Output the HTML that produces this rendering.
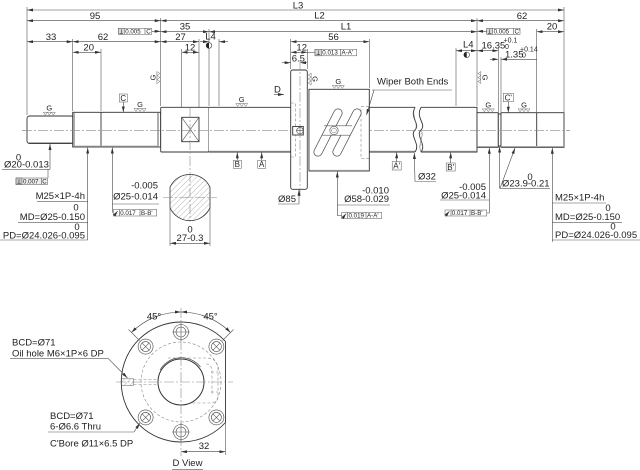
<!DOCTYPE html>
<html><head><meta charset="utf-8"><style>
html,body{margin:0;padding:0;background:#fff;}
svg{display:block;}
text{font-family:"Liberation Sans",Arial,sans-serif;font-size:9.5px;fill:#222;}
.s{font-size:7px;}
.t{font-size:6.2px;}
.g{font-size:7.5px;}
.l{stroke:#555;stroke-width:0.6;fill:none;}
.dm{stroke:#444;stroke-width:0.6;fill:none;marker-start:url(#a);marker-end:url(#a);}
.le{stroke:#444;stroke-width:0.6;fill:none;marker-end:url(#a);}
.o{stroke:#333;stroke-width:0.9;fill:#fff;}
.ln{stroke:#333;stroke-width:0.9;fill:none;}
.c{stroke:#888;stroke-width:0.6;stroke-dasharray:10 2 2 2;fill:none;}
.d{stroke:#888;stroke-width:0.6;stroke-dasharray:3 2;fill:none;}
.bx{stroke:#555;stroke-width:0.5;fill:#fff;}
.pp{stroke:#333;stroke-width:0.6;fill:none;}
</style></head><body>
<svg width="640" height="470" viewBox="0 0 640 470" xmlns="http://www.w3.org/2000/svg">
<defs>
<marker id="a" viewBox="0 0 6 3" refX="6" refY="1.5" markerWidth="6" markerHeight="3" markerUnits="userSpaceOnUse" orient="auto-start-reverse"><path d="M0,0 L6,1.5 L0,3z" fill="#333"/></marker>
<pattern id="h" width="4" height="4" patternUnits="userSpaceOnUse" patternTransform="rotate(45)"><line x1="0" y1="0" x2="0" y2="4" stroke="#888" stroke-width="0.6"/></pattern>
<g id="gs"><path d="M-6,-3.8 L6,-3.8 M-6,-3.8 L-4,-0.9 L-2,-3.8 L0,-0.9 L2,-3.8 L4,-0.9 L6,-3.8" stroke="#666" stroke-width="0.5" fill="none"/><text class="g" x="0" y="-5.3" text-anchor="middle">G</text></g>
</defs>

<!-- ===== Extension lines ===== -->
<path class="l" d="M27,7 V115 M72.7,39 V111 M101,49 V111 M160.7,18 V106 M181.7,49 V116 M199,39 V116 M209,29 V106 M219,39 V106 M290.7,39 V69 M307.3,49 V69 M369.3,39 V88 M456,48 V106 M477,18 V106 M498.3,48 V112 M501,57 V112 M536.7,29 V112 M564,7 V112"/>

<!-- ===== Top dimensions ===== -->
<line class="dm" x1="27" y1="10" x2="564" y2="10"/>
<text x="298" y="8.7" text-anchor="middle">L3</text>
<line class="dm" x1="27" y1="20.7" x2="160.7" y2="20.7"/>
<text x="95" y="19" text-anchor="middle">95</text>
<line class="dm" x1="160.7" y1="20.7" x2="477" y2="20.7"/>
<text x="319.5" y="18.5" text-anchor="middle">L2</text>
<line class="dm" x1="477" y1="20.7" x2="564" y2="20.7"/>
<text x="522" y="19" text-anchor="middle">62</text>

<line class="dm" x1="160.7" y1="31.7" x2="209" y2="31.7"/>
<text x="185" y="29.5" text-anchor="middle">35</text>
<line class="dm" x1="209" y1="31.7" x2="477" y2="31.7"/>
<text x="346" y="29.5" text-anchor="middle">L1</text>
<line class="dm" x1="536.7" y1="31.7" x2="564" y2="31.7"/>
<text x="552" y="29.5" text-anchor="middle">20</text>
<line class="le" x1="151.7" y1="31.3" x2="160.7" y2="31.3"/>
<line class="le" x1="486.7" y1="31.3" x2="477" y2="31.3"/>

<line class="dm" x1="27" y1="41.7" x2="72.7" y2="41.7"/>
<text x="51" y="40" text-anchor="middle">33</text>
<line class="dm" x1="72.7" y1="41.7" x2="160.7" y2="41.7"/>
<text x="103" y="40" text-anchor="middle">62</text>
<line class="dm" x1="160.7" y1="41.7" x2="199" y2="41.7"/>
<text x="180.5" y="40" text-anchor="middle">27</text>
<line class="le" x1="200" y1="41.7" x2="209" y2="41.7"/>
<line class="le" x1="228" y1="41.7" x2="219" y2="41.7"/>
<text x="210.5" y="39.5" text-anchor="middle">L4</text>
<circle cx="209" cy="45.5" r="2.8" fill="#fff" stroke="#333" stroke-width="0.6"/>
<path d="M209,42.7 A2.8,2.8 0 0,0 209,48.3 Z" fill="#222"/>
<line class="dm" x1="290.7" y1="41.7" x2="369.3" y2="41.7"/>
<text x="333.5" y="40" text-anchor="middle">56</text>

<line class="dm" x1="72.7" y1="52.3" x2="101" y2="52.3"/>
<text x="88.7" y="50.3" text-anchor="middle">20</text>
<line class="dm" x1="181.7" y1="52.3" x2="199" y2="52.3"/>
<text x="190" y="50.5" text-anchor="middle">12</text>
<line class="dm" x1="290.7" y1="52.3" x2="307.3" y2="52.3"/>
<line class="l" x1="307.3" y1="52.3" x2="315" y2="52.3"/>
<text x="301.7" y="50.5" text-anchor="middle">12</text>
<line class="le" x1="282" y1="62.7" x2="290.7" y2="62.7"/>
<line class="le" x1="307.3" y1="62.7" x2="300" y2="62.7"/>
<text x="298.3" y="61.3" text-anchor="middle">6.5</text>

<!-- right side small dims -->
<line class="dm" x1="456" y1="50.7" x2="477" y2="50.7"/>
<text x="468.3" y="47.7" text-anchor="middle">L4</text>
<circle cx="466.7" cy="54.8" r="2.8" fill="#fff" stroke="#333" stroke-width="0.6"/>
<path d="M466.7,52 A2.8,2.8 0 0,0 466.7,57.6 Z" fill="#222"/>
<line class="dm" x1="477" y1="50.7" x2="498.3" y2="50.7"/>
<text x="481.5" y="48.5">16.35</text>
<text class="s" x="503.5" y="42.5">+0.1</text>
<text class="s" x="505" y="48.8">0</text>
<line class="le" x1="490" y1="59.3" x2="498.3" y2="59.3"/>
<line class="le" x1="537" y1="59.3" x2="501" y2="59.3"/>
<text x="505" y="57.7">1.35</text>
<text class="s" x="520" y="51.7">+0.14</text>
<text class="s" x="522" y="57.7">0</text>

<!-- tolerance boxes top -->
<rect class="bx" x="118.3" y="28.3" width="33.4" height="6"/>
<rect x="118.3" y="28.3" width="6" height="6" fill="#d8d8d8" stroke="#555" stroke-width="0.5"/>
<line class="l" x1="145" y1="28.3" x2="145" y2="34.3"/>
<path class="pp" d="M119.6,33.3 H123 M121.3,33.3 V29.4"/>
<text class="t" x="125.2" y="33.3">0.005</text>
<text class="t" x="146.3" y="33.3">C</text>

<rect class="bx" x="315" y="49.3" width="41.7" height="6.5"/>
<rect x="315" y="49.3" width="6.5" height="6.5" fill="#d8d8d8" stroke="#555" stroke-width="0.5"/>
<line class="l" x1="340.5" y1="49.3" x2="340.5" y2="55.8"/>
<path class="pp" d="M316.5,54.7 H320 M318.25,54.7 V50.4"/>
<text class="t" x="322.3" y="54.6">0.013</text>
<text class="t" x="341.5" y="54.6">A-A'</text>

<rect class="bx" x="486.7" y="28.3" width="33.3" height="6"/>
<rect x="486.7" y="28.3" width="6" height="6" fill="#d8d8d8" stroke="#555" stroke-width="0.5"/>
<line class="l" x1="513.5" y1="28.3" x2="513.5" y2="34.3"/>
<path class="pp" d="M488,33.3 H491.4 M489.7,33.3 V29.4"/>
<text class="t" x="493.6" y="33.3">0.005</text>
<text class="t" x="514.5" y="33.3">C'</text>

<!-- ===== Shaft ===== -->
<line class="c" x1="22" y1="130.3" x2="570" y2="130.3"/>
<rect class="o" x="27" y="116" width="46.5" height="27.5" rx="2.5"/>
<rect class="o" x="72.7" y="112.3" width="88" height="34.7"/>
<line x1="74" y1="113" x2="74" y2="146.4" stroke="#999" stroke-width="1.6"/>
<line x1="158" y1="113" x2="158" y2="146.4" stroke="#999" stroke-width="1.6"/>
<line class="ln" x1="101" y1="112.3" x2="101" y2="147"/>
<line x1="28" y1="142.6" x2="72" y2="142.6" stroke="#aaa" stroke-width="1"/>
<line x1="74" y1="146.1" x2="157" y2="146.1" stroke="#aaa" stroke-width="1"/>

<rect class="o" x="160.7" y="107.3" width="48.3" height="44.7" rx="1"/>
<rect class="ln" x="181.7" y="117.3" width="17.3" height="24.4"/>
<path class="l" d="M181.7,117.3 L199,141.7 M199,117.3 L181.7,141.7"/>
<line class="c" x1="190" y1="108" x2="190" y2="222"/>

<!-- main shaft -->
<rect x="209" y="107.3" width="206" height="44.7" fill="#fff"/>
<path class="ln" d="M209,107.3 H415 M209,152 H415"/>
<line x1="209" y1="151.2" x2="415" y2="151.2" stroke="#aaa" stroke-width="0.9"/>
<path class="ln" d="M415,107.3 C409,118 421,124 415,130 C409,136 421,144 415,152"/>
<rect x="421" y="107.3" width="56" height="44.7" fill="#fff"/>
<path class="ln" d="M421,107.3 H477 V152 H421"/>
<line x1="422" y1="151.2" x2="476" y2="151.2" stroke="#aaa" stroke-width="0.9"/>
<path class="ln" d="M421,107.3 C415,118 427,124 421,130 C415,136 427,144 421,152"/>
<path d="M421,130 C415,136 427,144 421,152 C417,144 425,136 421,130Z" fill="url(#h)" stroke="#555" stroke-width="0.5"/>
<path d="M415,107.3 C409,118 421,124 415,130 C419,124 411,116 415,107.3Z" fill="url(#h)" stroke="#555" stroke-width="0.5"/>

<!-- right end -->
<rect class="o" x="477" y="112.7" width="21.3" height="34.6"/>
<rect class="o" x="498.3" y="114" width="2.7" height="32"/>
<rect class="o" x="501" y="112.7" width="63" height="34.6"/>
<line class="ln" x1="536.7" y1="112.7" x2="536.7" y2="147.3"/>
<line x1="478" y1="146.5" x2="497.5" y2="146.5" stroke="#aaa" stroke-width="0.9"/>
<line x1="502" y1="146.5" x2="563" y2="146.5" stroke="#aaa" stroke-width="0.9"/>
<line class="c" x1="22" y1="130.3" x2="570" y2="130.3"/>

<!-- flange -->
<rect class="o" x="290.7" y="70" width="16.6" height="119.3" rx="2"/>
<path class="d" d="M291,103 H295.5 V157 H291"/>
<line class="c" x1="300" y1="60" x2="300" y2="196"/>
<rect class="o" x="292.7" y="126.5" width="10.6" height="8.5"/>
<circle cx="300" cy="130.7" r="3.3" fill="none" stroke="#444" stroke-width="0.6"/>
<path class="l" d="M296,130.7 H304 M300,126.8 V134.6"/>

<!-- nut -->
<rect class="o" x="309" y="89.3" width="60.3" height="81.7"/>
<rect x="307.3" y="89.3" width="1.8" height="81.7" fill="#999"/>
<line x1="309.5" y1="170.3" x2="369" y2="170.3" stroke="#aaa" stroke-width="0.9"/>
<path class="d" d="M369,106.7 H361 V158.3 H369"/>
<line x1="338" y1="113" x2="318" y2="152" stroke="#444" stroke-width="9" stroke-linecap="round"/>
<line x1="357" y1="113" x2="337" y2="152" stroke="#444" stroke-width="9" stroke-linecap="round"/>
<line x1="338" y1="113" x2="318" y2="152" stroke="#fff" stroke-width="7.6" stroke-linecap="round"/>
<line x1="357" y1="113" x2="337" y2="152" stroke="#fff" stroke-width="7.6" stroke-linecap="round"/>
<rect x="330" y="126" width="18" height="9" fill="#fff"/>
<path class="l" d="M324,125.8 H352 M322,135.2 H350"/>
<circle cx="334" cy="130.5" r="4.2" fill="#fff" stroke="#444" stroke-width="0.6"/>
<circle cx="334" cy="130.5" r="2.4" fill="none" stroke="#666" stroke-width="0.5"/>

<!-- G symbols -->
<use href="#gs" x="49.3" y="116"/>
<use href="#gs" x="140" y="112.3"/>
<use href="#gs" x="241.7" y="107.3"/>
<use href="#gs" x="338.3" y="89.3"/>
<use href="#gs" x="488.3" y="112.7"/>
<use href="#gs" x="524" y="112.7"/>
<use href="#gs" transform="translate(160.7,77.5) rotate(-90)"/>
<use href="#gs" transform="translate(307.3,79) rotate(90)"/>
<use href="#gs" transform="translate(477,77.5) rotate(90)"/>

<!-- datum C, C' -->
<rect class="bx" x="119.3" y="94" width="8" height="8"/>
<text x="123.3" y="100.8" text-anchor="middle" style="font-size:8px">C</text>
<line class="le" x1="123.3" y1="102" x2="123.3" y2="112.3"/>
<rect class="bx" x="503.3" y="93.3" width="10" height="8.4"/>
<text x="508.3" y="100.3" text-anchor="middle" style="font-size:8px">C'</text>
<line class="le" x1="508.3" y1="101.7" x2="508.3" y2="112.7"/>

<!-- D arrow -->
<text x="274" y="92.5">D</text>
<line class="le" x1="274" y1="94.5" x2="284" y2="94.5"/>

<!-- Wiper -->
<text x="377" y="84.3">Wiper Both Ends</text>
<line class="l" x1="372" y1="90" x2="452" y2="90"/>
<line class="le" x1="374" y1="90" x2="366.5" y2="115"/>

<!-- ===== Bottom left callouts ===== -->
<line class="le" x1="50" y1="169.3" x2="50" y2="144"/>
<line class="l" x1="2" y1="169.3" x2="50" y2="169.3"/>
<text x="18.5" y="160.5" text-anchor="middle">0</text>
<text x="4" y="167.3">Ø20-0.013</text>
<line class="l" x1="48" y1="169.3" x2="48" y2="178"/>
<rect class="bx" x="16" y="178" width="31.5" height="6.5" style="fill:#eee"/>
<rect x="16" y="178" width="6" height="6.5" fill="#c8c8c8" stroke="#555" stroke-width="0.5"/>
<line class="l" x1="41.5" y1="178" x2="41.5" y2="184.5"/>
<path class="pp" d="M17.3,183.5 H20.7 M19,183.5 V179.2"/>
<text class="t" x="23" y="183.3">0.007</text>
<text class="t" x="42.3" y="183.3">C</text>

<line class="le" x1="87.7" y1="240" x2="87.7" y2="147.6"/>
<path class="l" d="M37,201.7 H87.7 M18,222.3 H87.7 M0,240 H87.7"/>
<text x="85" y="199" text-anchor="end">M25×1P-4h</text>
<text x="76" y="210.5" text-anchor="middle">0</text>
<text x="85" y="219.8" text-anchor="end">MD=Ø25-0.150</text>
<text x="77" y="229.8" text-anchor="middle">0</text>
<text x="85" y="238.3" text-anchor="end">PD=Ø24.026-0.095</text>

<line class="le" x1="112.3" y1="212.7" x2="112.3" y2="147.6"/>
<line class="l" x1="112.3" y1="204" x2="159" y2="204"/>
<text x="158" y="188.3" text-anchor="end">-0.005</text>
<text x="158" y="199.3" text-anchor="end">Ø25-0.014</text>
<rect class="bx" x="113.3" y="209.5" width="43.4" height="6.5"/>
<line class="l" x1="119.3" y1="209.5" x2="119.3" y2="216"/>
<line class="l" x1="140" y1="209.5" x2="140" y2="216"/>
<line x1="114.8" y1="214.8" x2="117.8" y2="210.8" stroke="#333" stroke-width="0.5" marker-end="url(#a)"/>
<text class="t" x="120.2" y="214.8">0.017</text>
<text class="t" x="141" y="214.8">B-B'</text>

<!-- section -->
<path d="M170,187.2 A22,22 0 0,1 210,187.2 L210,207.8 A22,22 0 0,1 170,207.8 Z" fill="url(#h)" stroke="#333" stroke-width="0.8"/>
<line class="c" x1="163" y1="197.5" x2="217" y2="197.5"/>
<path class="l" d="M170,208 V246 M210,208 V246"/>
<line class="dm" x1="170" y1="243.3" x2="210" y2="243.3"/>
<text x="190" y="232.7" text-anchor="middle">0</text>
<text x="190" y="241" text-anchor="middle">27-0.3</text>

<!-- datum boxes -->
<rect class="bx" x="233.3" y="160.3" width="8" height="8"/>
<text x="237.3" y="167.2" text-anchor="middle" style="font-size:8px">B</text>
<line class="le" x1="237.3" y1="160.3" x2="237.3" y2="152.3"/>
<rect class="bx" x="257.7" y="160.3" width="8" height="8"/>
<text x="261.7" y="167.2" text-anchor="middle" style="font-size:8px">A</text>
<line class="le" x1="261.7" y1="160.3" x2="261.7" y2="152.3"/>
<rect class="bx" x="392.2" y="161.7" width="9" height="8.3"/>
<text x="396.7" y="168.7" text-anchor="middle" style="font-size:8px">A'</text>
<line class="le" x1="396.7" y1="161.7" x2="396.7" y2="152.3"/>
<rect class="bx" x="446.2" y="163" width="9" height="8"/>
<text x="450.7" y="169.8" text-anchor="middle" style="font-size:8px">B'</text>
<line class="le" x1="450.7" y1="163" x2="450.7" y2="152.3"/>

<!-- Ø85, Ø58 -->
<line class="le" x1="299" y1="204" x2="299" y2="189.8"/>
<line class="l" x1="278" y1="204" x2="299" y2="204"/>
<text x="296" y="202" text-anchor="end">Ø85</text>
<line class="le" x1="337.3" y1="215.5" x2="337.3" y2="171.5"/>
<line class="l" x1="337.3" y1="205" x2="390" y2="205"/>
<text x="389" y="193.5" text-anchor="end">-0.010</text>
<text x="389" y="202" text-anchor="end">Ø58-0.029</text>
<line class="l" x1="337.3" y1="215.5" x2="341.7" y2="215.5"/>
<rect class="bx" x="341.7" y="212.3" width="40" height="6.3"/>
<line class="l" x1="347.7" y1="212.3" x2="347.7" y2="218.6"/>
<line class="l" x1="366" y1="212.3" x2="366" y2="218.6"/>
<line x1="343.2" y1="217.4" x2="346.2" y2="213.4" stroke="#333" stroke-width="0.5" marker-end="url(#a)"/>
<text class="t" x="348.5" y="217.4">0.019</text>
<text class="t" x="367" y="217.4">A-A'</text>

<!-- Ø32 -->
<line class="le" x1="415" y1="181.5" x2="414.3" y2="153"/>
<line class="l" x1="415" y1="181.5" x2="436" y2="181.5"/>
<text x="418" y="179.5">Ø32</text>

<!-- right Ø25 -->
<line class="le" x1="489.3" y1="213" x2="489.3" y2="147.8"/>
<line class="l" x1="440" y1="200" x2="489.3" y2="200"/>
<text x="486" y="190" text-anchor="end">-0.005</text>
<text x="486" y="198.5" text-anchor="end">Ø25-0.014</text>
<line class="l" x1="486.7" y1="213" x2="489.3" y2="213"/>
<rect class="bx" x="445" y="210" width="41.7" height="6"/>
<line class="l" x1="451" y1="210" x2="451" y2="216"/>
<line class="l" x1="470" y1="210" x2="470" y2="216"/>
<line x1="446.5" y1="214.8" x2="449.5" y2="211" stroke="#333" stroke-width="0.5" marker-end="url(#a)"/>
<text class="t" x="451.8" y="214.8">0.017</text>
<text class="t" x="471" y="214.8">B-B'</text>

<!-- Ø23.9 -->
<line class="le" x1="499.6" y1="188.3" x2="499.6" y2="146.6"/>
<line class="le" x1="500" y1="188.3" x2="515" y2="148"/>
<line class="l" x1="499.6" y1="188.3" x2="550" y2="188.3"/>
<text x="530" y="180" text-anchor="middle">0</text>
<text x="502" y="186.5">Ø23.9-0.21</text>

<!-- right thread -->
<line class="le" x1="552.3" y1="241.7" x2="552.3" y2="147.8"/>
<path class="l" d="M552.3,203 H606 M552.3,222.3 H622 M552.3,240 H640"/>
<text x="555" y="200.5">M25×1P-4h</text>
<text x="608" y="211" text-anchor="middle">0</text>
<text x="555" y="219.8">MD=Ø25-0.150</text>
<text x="613" y="229.5" text-anchor="middle">0</text>
<text x="555" y="238">PD=Ø24.026-0.095</text>

<!-- ===== D View ===== -->
<path d="M225.5,341.5 A60,60 0 1,0 225.5,422.5" fill="none" stroke="#333" stroke-width="0.9"/>
<line class="ln" x1="225.5" y1="341.5" x2="225.5" y2="422.5"/>
<line class="l" x1="225.5" y1="422.5" x2="225.5" y2="455"/>
<circle cx="181" cy="382" r="40" class="d"/>
<path class="d" d="M168,358 H206 Q218,358 218,370 V396 Q218,403 210,403 H181 M206,364 Q212,364 212,372 V396 M211,372 H218 M211,392 H218"/>
<circle cx="181" cy="382" r="23" fill="#fff" stroke="#333" stroke-width="1"/>
<path d="M160,370 A24.5,24.5 0 0,1 200.5,367" fill="none" stroke="#444" stroke-width="0.7"/>
<line class="c" x1="116" y1="382" x2="233" y2="382"/>
<line class="c" x1="181" y1="308" x2="181" y2="456"/>
<!-- oil hole -->
<path class="d" d="M133.5,379.5 H158 M133.5,384.5 H158"/>
<rect x="121.5" y="378.8" width="12" height="6.5" fill="url(#h)" stroke="#555" stroke-width="0.5"/>
<!-- bolt holes -->
<g fill="#fff" stroke="#444" stroke-width="0.6">
<circle cx="181" cy="332" r="7.5"/><circle cx="181" cy="332" r="5"/>
<circle cx="181" cy="432" r="7.5"/><circle cx="181" cy="432" r="5"/>
<circle cx="145.6" cy="346.6" r="7.5"/><circle cx="145.6" cy="346.6" r="5"/>
<circle cx="216.4" cy="346.6" r="7.5"/><circle cx="216.4" cy="346.6" r="5"/>
<circle cx="145.6" cy="417.4" r="7.5"/><circle cx="145.6" cy="417.4" r="5"/>
<circle cx="216.4" cy="417.4" r="7.5"/><circle cx="216.4" cy="417.4" r="5"/>
</g>
<path class="l" d="M172,332 H190 M181,323 V341 M172,432 H190 M181,423 V441
M142.1,343.1 L149.1,350.1 M149.1,343.1 L142.1,350.1
M212.9,343.1 L219.9,350.1 M219.9,343.1 L212.9,350.1
M142.1,413.9 L149.1,420.9 M149.1,413.9 L142.1,420.9
M212.9,413.9 L219.9,420.9 M219.9,413.9 L212.9,420.9"/>
<!-- angle dims -->
<path class="dm" d="M181,312 A70,70 0 0,0 131.5,332.5"/>
<path class="dm" d="M181,312 A70,70 0 0,1 230.5,332.5"/>
<path class="l" d="M139.5,340.5 L128.5,329.5 M222.5,340.5 L233.5,329.5"/>
<text x="154" y="319.5" text-anchor="middle">45°</text>
<text x="210.5" y="319.5" text-anchor="middle">45°</text>
<!-- 32 -->
<line class="dm" x1="181" y1="451.7" x2="225.5" y2="451.7"/>
<text x="204" y="449" text-anchor="middle">32</text>
<!-- labels -->
<text x="12" y="345.5">BCD=Ø71</text>
<text x="12" y="356.5">Oil hole M6×1P×6 DP</text>
<line class="l" x1="10" y1="358.3" x2="108" y2="358.3"/>
<line class="le" x1="108" y1="358.3" x2="127.5" y2="378"/>
<text x="50" y="419">BCD=Ø71</text>
<text x="50" y="429.5">6-Ø6.6 Thru</text>
<line class="l" x1="48" y1="432" x2="134" y2="432"/>
<line class="le" x1="134" y1="432" x2="139.8" y2="423.2"/>
<text x="50" y="446.5">C'Bore Ø11×6.5 DP</text>
<text x="187.5" y="466" text-anchor="middle">D View</text>
<line class="l" x1="172" y1="469.3" x2="203" y2="469.3"/>
</svg>
</body></html>
